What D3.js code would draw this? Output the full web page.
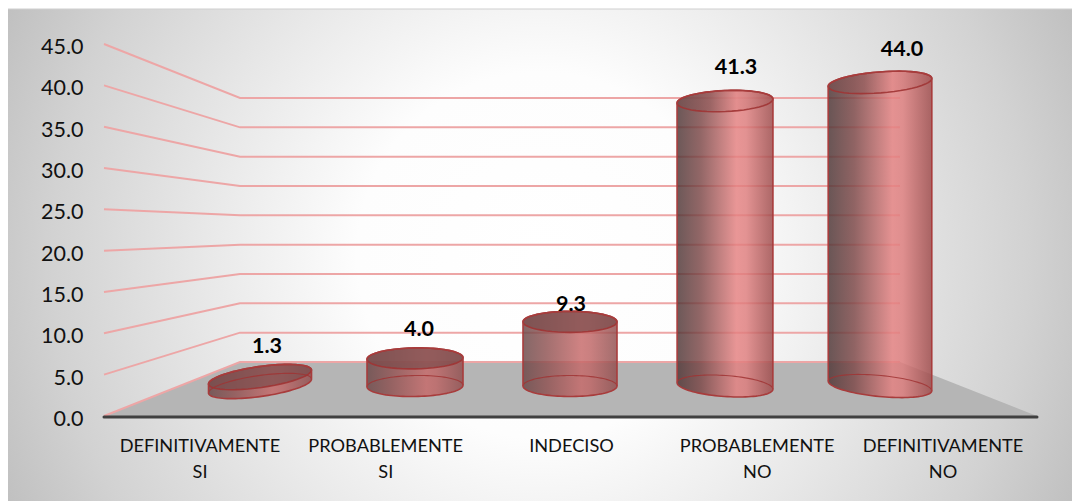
<!DOCTYPE html>
<html><head><meta charset="utf-8">
<script src="https://cdn.jsdelivr.net/npm/d3@7"></script>
<style>html,body{margin:0;padding:0;background:#fff}svg{display:block}text{font-family:Lato,sans-serif;fill:#111}</style>
</head><body><svg id="c" width="1072" height="501"></svg>
<script>
const categories = ["DEFINITIVAMENTE SI","PROBABLEMENTE SI","INDECISO","PROBABLEMENTE NO","DEFINITIVAMENTE NO"];
const values = [1.3,4.0,9.3,41.3,44.0];
const valueLabels = ["1.3","4.0","9.3","41.3","44.0"];
const tickValues = [0,5,10,15,20,25,30,35,40,45];

const W=1072,H=501;
const svg=d3.select("#c");
const defs=svg.append("defs");

const bg=defs.append("radialGradient").attr("id","bg").attr("gradientUnits","userSpaceOnUse")
  .attr("cx",540).attr("cy",255).attr("r",610);
[[0,"#ffffff"],[0.3,"#fdfdfd"],[0.55,"#e8e8e8"],[0.8,"#d2d2d2"],[1,"#bcbcbc"]].forEach(s=>bg.append("stop").attr("offset",s[0]).attr("stop-color",s[1]));

const tallG=defs.append("linearGradient").attr("id","bodyTall");
[[0,"#4c3434"],[0.25,"#7c4646"],[0.62,"#e58080"],[0.72,"#de7c7c"],[1,"#9c4848"]].forEach(s=>tallG.append("stop").attr("offset",s[0]).attr("stop-color",s[1]));
const shortG=defs.append("linearGradient").attr("id","bodyShort");
[[0,"#6a4646"],[0.25,"#8e5050"],[0.62,"#c66868"],[0.72,"#be6464"],[1,"#8e4c4c"]].forEach(s=>shortG.append("stop").attr("offset",s[0]).attr("stop-color",s[1]));
const topG=defs.append("linearGradient").attr("id","capTall");
[[0,"#7a5050"],[0.35,"#935c5c"],[0.62,"#e08a8a"],[0.75,"#cc7c7c"],[1,"#a85a5a"]].forEach(s=>topG.append("stop").attr("offset",s[0]).attr("stop-color",s[1]));

svg.append("rect").attr("x",8).attr("y",9).attr("width",W-8).attr("height",H-9).attr("fill","url(#bg)");
svg.append("line").attr("x1",8).attr("x2",W).attr("y1",9).attr("y2",9).attr("stroke","#cfcfcf");

// perspective wall / floor scales
const yFront=d3.scaleLinear().domain([0,45]).range([416,44]);
const yBack=d3.scaleLinear().domain([0,45]).range([362,98]);
const yCyl=d3.scaleLinear().domain([0,45]).range([386,75.5]);
const xFrontL=104,xBackL=240,xBackR=900,xFrontR=1037;

// floor
svg.append("path").attr("d",d3.line()([[xFrontL,yFront(0)],[xBackL,yBack(0)],[xBackR,yBack(0)],[xFrontR,yFront(0)]])+"Z").attr("fill","#b5b5b5");

// gridlines
const gridLine=d3.line();
svg.append("g").selectAll("path").data(tickValues).join("path")
  .attr("d",v=>gridLine([[xFrontL,yFront(v)],[xBackL,yBack(v)],[xBackR,yBack(v)]]))
  .attr("fill","none").attr("stroke","#eda6a6").attr("stroke-width",2);

// baseline
svg.append("line").attr("x1",xFrontL).attr("x2",xFrontR).attr("y1",417).attr("y2",417)
  .attr("stroke","#404040").attr("stroke-width",3).attr("stroke-linecap","round");

// y axis labels
const ax=svg.append("g").attr("transform","translate(93.5,2.5)")
  .call(d3.axisLeft(yFront).tickValues(tickValues).tickSize(0).tickPadding(10).tickFormat(d3.format(".1f")));
ax.select(".domain").remove();
ax.selectAll("text").style("font-family","Lato,sans-serif").style("font-size","21.5px").attr("fill","#111");

// cylinders
const xCyl=d3.scalePoint().domain(categories).range([260,880]);
const cx0=570;
const rxScale=d3.scaleLinear().domain([0,155,310]).range([47,48,52]);
const bottomTilt=[-8,-1,0,4,5.5];
const topTilt=[-8,-1,0,-2.5,-4.5];
const ry=10.5;
const ellPts=(x,y,rx,ry,t,a0,a1)=>{
  const r=t*Math.PI/180,p=[];
  for(let i=0;i<=48;i++){const a=a0+(a1-a0)*i/48;
    const ex=rx*Math.cos(a),ey=ry*Math.sin(a);
    p.push([x+ex*Math.cos(r)-ey*Math.sin(r),y+ex*Math.sin(r)+ey*Math.cos(r)]);}
  return p;};

const cyl=svg.append("g").selectAll("g").data(categories).join("g");
cyl.each(function(c,i){
  const g=d3.select(this),x=xCyl(c),rx=rxScale(Math.abs(x-cx0));
  const tall=values[i]>20;
  const yb=yCyl(0),yt=yCyl(values[i]);
  const lower=ellPts(x,yb,rx,ry,bottomTilt[i],0,Math.PI);
  const upper=ellPts(x,yt,rx,ry,topTilt[i],Math.PI,2*Math.PI);
  const outline=d3.line()(upper.concat(lower))+"Z";
  const cap=d3.line()(ellPts(x,yt,rx,ry,topTilt[i],0,2*Math.PI))+"Z";
  g.append("path").attr("d",outline).attr("fill",tall?"url(#bodyTall)":"url(#bodyShort)").attr("fill-opacity",0.82);
  g.append("path").attr("d",cap).attr("fill",tall?"url(#capTall)":"#7c4c4c").attr("fill-opacity",tall?.6:.72);
  g.append("path").attr("d",d3.line()(ellPts(x,yb,rx,ry,bottomTilt[i],Math.PI,2*Math.PI)))
    .attr("fill","none").attr("stroke","#a03434").attr("stroke-width",1.1).attr("stroke-opacity",.85);
  g.append("path").attr("d",cap).attr("fill","none").attr("stroke","#a03434").attr("stroke-width",1.6).attr("stroke-opacity",.9);
  g.append("path").attr("d",outline).attr("fill","none").attr("stroke","#a83c3c").attr("stroke-width",1.6).attr("stroke-linejoin","round");
});

// value labels
const labelDx=[7,4,1,11,22], labelDy=[-32,-30,-18,-35,-34];
svg.append("g").selectAll("text").data(categories).join("text")
  .attr("x",(c,i)=>xCyl(c)+labelDx[i]).attr("y",(c,i)=>yCyl(values[i])+labelDy[i])
  .attr("dy","0.35em").attr("text-anchor","middle")
  .style("font-size","21.5px").style("font-weight",700).style("fill","#000")
  .text((c,i)=>valueLabels[i]);

// category labels
const xCat=d3.scalePoint().domain(categories).range([200,943]);
const wrap={"DEFINITIVAMENTE SI":["DEFINITIVAMENTE","SI"],"PROBABLEMENTE SI":["PROBABLEMENTE","SI"],"INDECISO":["INDECISO"],"PROBABLEMENTE NO":["PROBABLEMENTE","NO"],"DEFINITIVAMENTE NO":["DEFINITIVAMENTE","NO"]};
const ct=svg.append("g").selectAll("text").data(categories).join("text")
  .attr("text-anchor","middle").style("font-size","18.2px");
ct.each(function(c){
  const t=d3.select(this);
  wrap[c].forEach((s,j)=>t.append("tspan").attr("x",xCat(c)).attr("y",451.5+j*26).text(s));
});
</script></body></html>
